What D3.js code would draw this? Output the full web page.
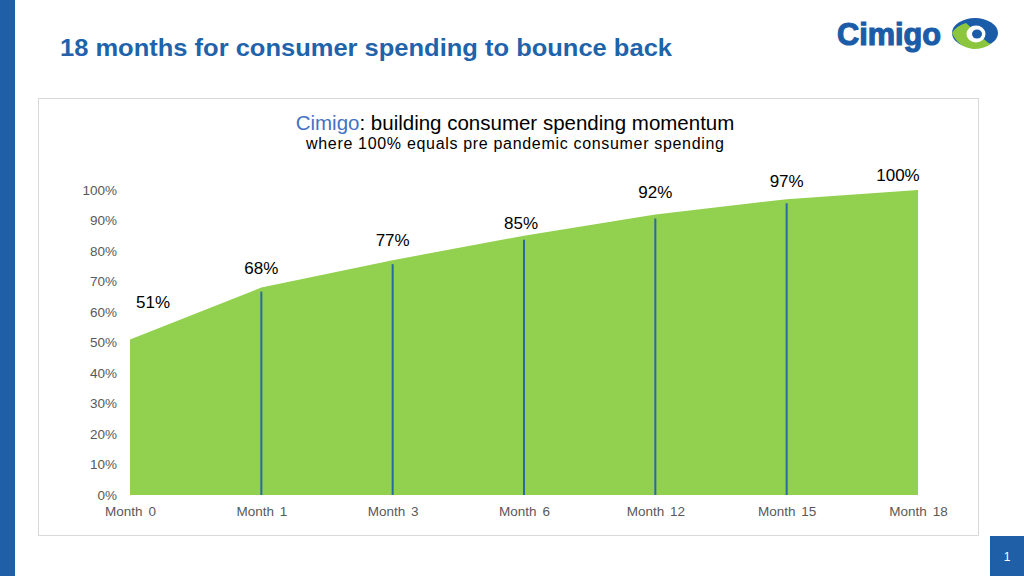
<!DOCTYPE html>
<html><head><meta charset="utf-8">
<script src="https://cdn.jsdelivr.net/npm/d3@7"></script>
<style>body{margin:0;background:#fff}svg{display:block;font-family:Arial,"Liberation Sans",sans-serif}</style>
</head><body>
<svg id="c" width="1024" height="576"></svg>
<script>
const categories = ["Month 0","Month 1","Month 3","Month 6","Month 12","Month 15","Month 18"];
const spending = [51, 68, 77, 85, 92, 97, 100];
const dataLabels = ["51%","68%","77%","85%","92%","97%","100%"];
const yTicks = [0,10,20,30,40,50,60,70,80,90,100];

const svg = d3.select("#c");
const blue = "#1f5fa8";

// left bar & page number
svg.append("rect").attr("x",0).attr("y",0).attr("width",15).attr("height",576).attr("fill",blue);
svg.append("rect").attr("x",990).attr("y",536).attr("width",34).attr("height",40).attr("fill",blue);
svg.append("text").attr("x",1007).attr("y",561).attr("text-anchor","middle").attr("fill","#fff").attr("font-size",12).text("1");

// headline
svg.append("text").attr("x",60).attr("y",56).attr("fill","#1f63ab").attr("font-size",24).attr("font-weight","bold")
  .attr("textLength",612).attr("lengthAdjust","spacingAndGlyphs")
  .text("18 months for consumer spending to bounce back");

// logo
const lg = svg.append("g");
lg.append("text").attr("x",837).attr("y",45).attr("fill","#1b5ca8").attr("stroke","#1b5ca8").attr("stroke-width",1.2)
  .attr("font-size",32).attr("font-weight","bold")
  .attr("textLength",104).attr("lengthAdjust","spacingAndGlyphs").text("Cimigo");
lg.append("ellipse").attr("cx",975).attr("cy",33).attr("rx",23).attr("ry",15).attr("fill","#1b5ca8");
lg.append("path").attr("d","M952,33 Q956,26 966,23 L985,40 Q990,45 992,43 Q985,49 973,49 Q958,47 952,33 Z").attr("fill","#8cc63f");
lg.append("ellipse").attr("cx",976).attr("cy",34).attr("rx",9.5).attr("ry",8.5).attr("fill","#fff");
lg.append("ellipse").attr("cx",977).attr("cy",34).attr("rx",5).attr("ry",4.5).attr("fill","#1b5ca8");

// chart box
svg.append("rect").attr("x",38.5).attr("y",98.5).attr("width",940).attr("height",437).attr("fill","#fff").attr("stroke","#d9d9d9");

// chart title
const t = svg.append("text").attr("x",515).attr("y",130).attr("text-anchor","middle").attr("font-size",20.5);
t.append("tspan").attr("fill","#4472c4").text("Cimigo");
t.append("tspan").attr("fill","#000").text(": building consumer spending momentum");
svg.append("text").attr("x",515).attr("y",149).attr("text-anchor","middle").attr("font-size",16)
  .attr("textLength",418).attr("lengthAdjust","spacing").attr("fill","#000")
  .text("where 100% equals pre pandemic consumer spending");

// scales
const x = d3.scalePoint().domain(categories).range([130, 918]);
const y = d3.scaleLinear().domain([0,100]).range([495, 190]);

const data = categories.map((c,i)=>({c, v:spending[i], l:dataLabels[i]}));

// area
svg.append("path").datum(data)
  .attr("d", d3.area().x(d=>x(d.c)).y0(y(0)).y1(d=>y(d.v)))
  .attr("fill","#92d050");

// drop lines
svg.append("g").selectAll("line").data(data.slice(1,-1)).join("line")
  .attr("x1",d=>x(d.c)).attr("x2",d=>x(d.c))
  .attr("y1",d=>y(d.v)+4).attr("y2",y(0))
  .attr("stroke","#2a6aa3").attr("stroke-width",2);

// y axis
const yAxis = svg.append("g").attr("transform","translate(117,0)")
  .call(d3.axisLeft(y).tickValues(yTicks).tickFormat(d=>d+"%").tickSize(0).tickPadding(0));
yAxis.select(".domain").remove();
yAxis.selectAll("text").attr("fill","#595959").attr("font-size",13.5).style("font-family","Arial,'Liberation Sans',sans-serif");

// x axis
const xAxis = svg.append("g").attr("transform","translate(0,500)")
  .call(d3.axisBottom(x).tickSize(0).tickPadding(6));
xAxis.select(".domain").remove();
xAxis.selectAll("text").attr("fill","#595959").attr("font-size",13.5).attr("word-spacing","2").style("font-family","Arial,'Liberation Sans',sans-serif");

// data labels
const dx = [23, 0, 0, -3, 0, 0, -20];
const dy = [-31, -14, -14, -7, -16, -12, -9];
svg.append("g").selectAll("text").data(data).join("text")
  .attr("x",(d,i)=>x(d.c)+dx[i]).attr("y",(d,i)=>y(d.v)+dy[i])
  .attr("text-anchor","middle").attr("font-size",17).attr("fill","#000")
  .text(d=>d.l);
</script>
</body></html>
